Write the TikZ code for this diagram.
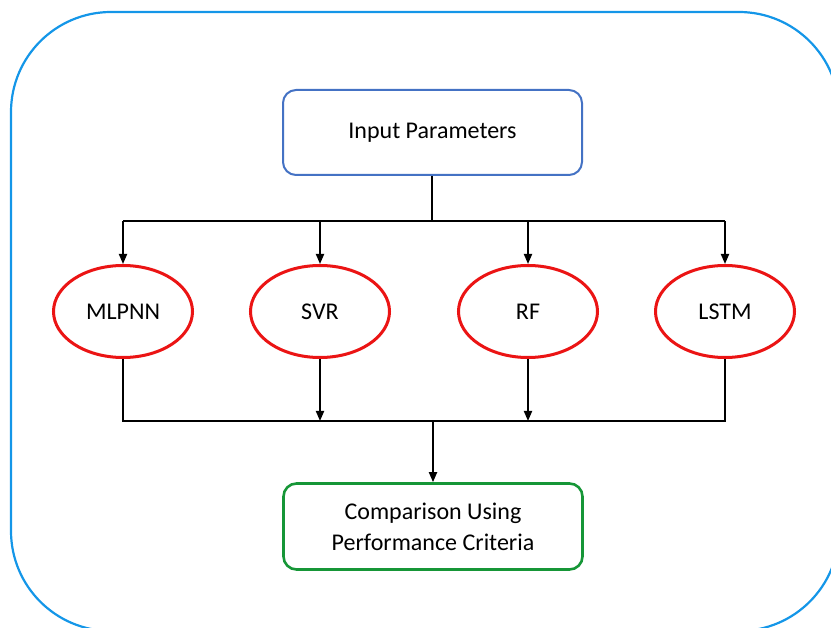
\documentclass[tikz,border=0pt]{standalone}
\usepackage{fontspec}
\setmainfont{Carlito}
\usetikzlibrary{shapes.geometric,arrows.meta}
\definecolor{frameblue}{RGB}{20,150,232}
\definecolor{boxblue}{RGB}{68,114,196}
\definecolor{modelred}{RGB}{235,20,20}
\definecolor{boxgreen}{RGB}{22,150,55}
\tikzset{
  lbl/.style={font=\fontsize{24}{31}\selectfont, text=black, align=center},
  inbox/.style={lbl, draw=boxblue, line width=2pt, rounded corners=13pt,
    minimum width=299pt, minimum height=85pt, fill=white},
  outbox/.style={lbl, draw=boxgreen, line width=2.6pt, rounded corners=13pt,
    minimum width=299pt, minimum height=86pt, fill=white},
  model/.style={lbl, ellipse, draw=modelred, line width=3pt,
    minimum width=139pt, minimum height=92pt, inner sep=0pt},
  wire/.style={line width=1.8pt, black},
  arr/.style={wire, -{Triangle[length=10pt,width=8pt]}}
}
\begin{document}
\begin{tikzpicture}[x=1pt,y=-1pt]
  \useasboundingbox (0,0) rectangle (831,628);
  \clip (0,0) rectangle (831,628);
  % outer frame, partly running past the page edges
  \draw[frameblue, line width=2.2pt, rounded corners=100pt] (11,12) rectangle (839,631);

  \node[inbox] (in) at (432.5,132.5) {Input Parameters};

  \node[model] (m1) at (123,311.5) {MLPNN};
  \node[model] (m2) at (320,311.5) {SVR};
  \node[model] (m3) at (528,311.5) {RF};
  \node[model] (m4) at (725,311.5) {LSTM};

  \node[outbox] (cmp) at (433,526.5) {Comparison Using\\Performance Criteria};

  \coordinate (split) at (432,221);
  \coordinate (merge) at (433,421);

  % fan-out from the inputs
  \draw[wire] (in.south -| split) -- (split);
  \draw[wire] (m1.north |- split) -- (m4.north |- split);
  \foreach \m in {m1,m2,m3,m4}
    \draw[arr] (\m.north |- split) -- (\m.north);

  % fan-in to the comparison
  \draw[wire] (m1.south) -- (m1.south |- merge) -- (m4.south |- merge) -- (m4.south);
  \draw[arr] (m2.south) -- (m2.south |- merge);
  \draw[arr] (m3.south) -- (m3.south |- merge);
  \draw[arr] (merge) -- (cmp.north -| merge);
\end{tikzpicture}
\end{document}
